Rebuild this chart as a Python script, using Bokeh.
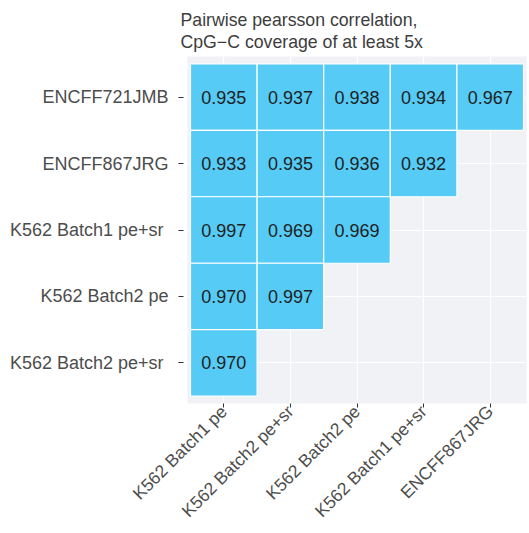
from bokeh.plotting import figure
from bokeh.models import ColumnDataSource, FactorRange
from bokeh.embed import file_html
from bokeh.resources import INLINE
from math import pi

x_cats = ["K562 Batch1 pe", "K562 Batch2 pe+sr", "K562 Batch2 pe", "K562 Batch1 pe+sr", "ENCFF867JRG"]
y_cats = ["K562 Batch2 pe+sr ", "K562 Batch2 pe", "K562 Batch1 pe+sr ", "ENCFF867JRG", "ENCFF721JMB"]

row_ENCFF721JMB = [0.935, 0.937, 0.938, 0.934, 0.967]
row_ENCFF867JRG = [0.933, 0.935, 0.936, 0.932]
row_K562_Batch1_pe_sr = [0.997, 0.969, 0.969]
row_K562_Batch2_pe = [0.970, 0.997]
row_K562_Batch2_pe_sr = [0.970]

rows = {
    "ENCFF721JMB": row_ENCFF721JMB,
    "ENCFF867JRG": row_ENCFF867JRG,
    "K562 Batch1 pe+sr ": row_K562_Batch1_pe_sr,
    "K562 Batch2 pe": row_K562_Batch2_pe,
    "K562 Batch2 pe+sr ": row_K562_Batch2_pe_sr,
}

xs, ys, vals, labels = [], [], [], []
for yname, rvals in rows.items():
    for i, v in enumerate(rvals):
        xs.append(x_cats[i])
        ys.append(yname)
        vals.append(v)
        labels.append(f"{v:.3f}")

src = ColumnDataSource(dict(x=xs, y=ys, v=vals, label=labels))

FONT = "Liberation Sans"

p = figure(
    width=529, height=533,
    x_range=FactorRange(factors=x_cats, range_padding=0.045, range_padding_units="absolute"),
    y_range=FactorRange(factors=y_cats, range_padding=0.11, range_padding_units="absolute"),
    output_backend="svg", toolbar_location=None,
    min_border_left=187, min_border_right=3, min_border_top=56, min_border_bottom=130,
    title="Pairwise pearsson correlation,\nCpG\u2212C coverage of at least 5x",
)

p.background_fill_color = "#F1F2F5"
p.border_fill_color = "white"
p.outline_line_color = None

p.title.text_font = FONT
p.title.text_font_size = "17.7px"
p.title.text_font_style = "normal"
p.title.text_color = "#3d3d3d"
p.title.align = "left"
p.title.offset = -7
p.title.text_line_height = 1.1

p.rect(x="x", y="y", width=1, height=1, source=src,
       fill_color="#56CBF5", line_color="white", line_width=1.2)

p.text(x="x", y="y", text="label", source=src,
       text_align="center", text_baseline="middle",
       text_font_size="18px", text_color="#1f1f1f",
       text_font={"value": FONT})

p.grid.grid_line_color = "white"
p.grid.grid_line_width = 1.2

for ax in (p.xaxis, p.yaxis):
    ax.axis_line_color = None
    ax.major_label_text_font = FONT
    ax.major_label_text_font_size = "18px"
    ax.major_label_text_color = "#4d4d4d"
    ax.major_tick_line_color = "#333333"
    ax.minor_tick_line_color = None

p.xaxis.major_tick_in = 0
p.xaxis.major_tick_out = 4
p.xaxis.major_label_orientation = pi / 4
p.xaxis.major_label_text_font_size = "17.5px"
p.xaxis.major_label_standoff = 1

p.yaxis.major_tick_in = -4
p.yaxis.major_tick_out = 9
p.yaxis.major_label_standoff = 10

open("out.html", "w").write(file_html(p, INLINE))
